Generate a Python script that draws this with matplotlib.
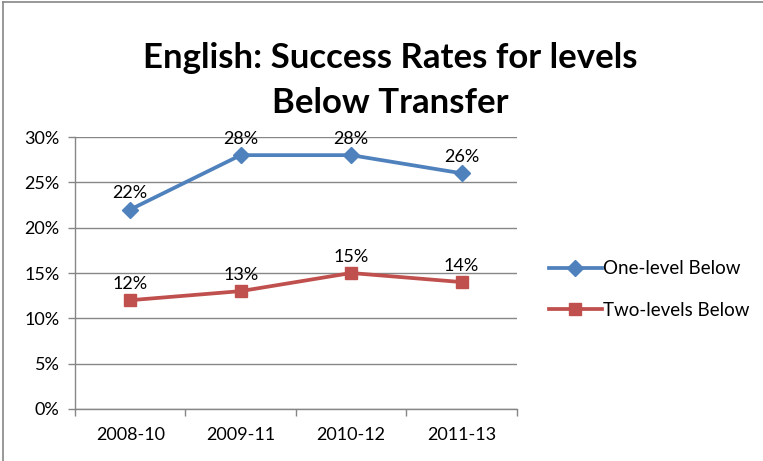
import matplotlib
matplotlib.use('Agg')
from matplotlib import pyplot as plt
from matplotlib.lines import Line2D
from matplotlib.ticker import PercentFormatter

# Success rates (%) by cohort
cohorts = ['2008-10', '2009-11', '2010-12', '2011-13']
one_level = [22, 28, 28, 26]
two_levels = [12, 13, 15, 14]

plt.rcParams['font.family'] = ['Lato', 'DejaVu Sans']

blue = '#4F81BD'
red = '#C0504D'
grid = '#868686'

fig = plt.figure(figsize=(7.63, 4.61), dpi=100)
ax = fig.add_axes([0.0983, 0.1128, 0.579, 0.590])

x = range(len(cohorts))
ln1 = ax.plot(x, one_level, color=blue, lw=2.7, marker='D', ms=8,
              label='One-level Below')
ln2 = ax.plot(x, two_levels, color=red, lw=2.7, marker='s', ms=9,
              label='Two-levels Below')

# Value labels above each point
for i, v in enumerate(one_level):
    ax.annotate(f'{v}%', (i, v), xytext=(0, 6), textcoords='offset points',
                ha='center', va='bottom', fontsize=13)
for i, v in enumerate(two_levels):
    ax.annotate(f'{v}%', (i, v), xytext=(0, 6), textcoords='offset points',
                ha='center', va='bottom', fontsize=13)

ax.set_xlim(-0.5, len(cohorts) - 0.5)
ax.set_ylim(0, 30)
ax.set_yticks(range(0, 31, 5))
ax.yaxis.set_major_formatter(PercentFormatter(decimals=0))
ax.set_xticks(x)
ax.set_xticklabels(cohorts)
ax.set_xticks([i - 0.5 for i in range(len(cohorts) + 1)], minor=True)
ax.tick_params(axis='x', which='major', length=0, labelsize=13, pad=13)
ax.tick_params(axis='x', which='minor', length=5, color=grid, width=1)
ax.tick_params(axis='y', length=5, color=grid, width=1, labelsize=13, pad=6)

ax.grid(axis='y', color=grid, lw=1)
ax.set_axisbelow(True)
for side in ['top', 'right']:
    ax.spines[side].set_visible(False)
for side in ['left', 'bottom']:
    ax.spines[side].set_color(grid)
    ax.spines[side].set_linewidth(1)

fig.text(0.511, 0.826, 'English: Success Rates for levels\nBelow Transfer',
         ha='center', va='center', fontsize=25, fontweight='bold',
         linespacing=1.5)

lns = ln1 + ln2
ax.legend(lns, [l.get_label() for l in lns], loc='center left',
          bbox_to_anchor=(1.035, 0.44), frameon=False, fontsize=13.5,
          handlelength=2.8, labelspacing=1.3, handletextpad=0.05)

# chart border
fig.add_artist(Line2D([0.004, 0.004], [0, 0.996], color=grid, lw=1.2))
fig.add_artist(Line2D([0.004, 1], [0.996, 0.996], color=grid, lw=1.2))

plt.savefig('out.png', dpi=100)
